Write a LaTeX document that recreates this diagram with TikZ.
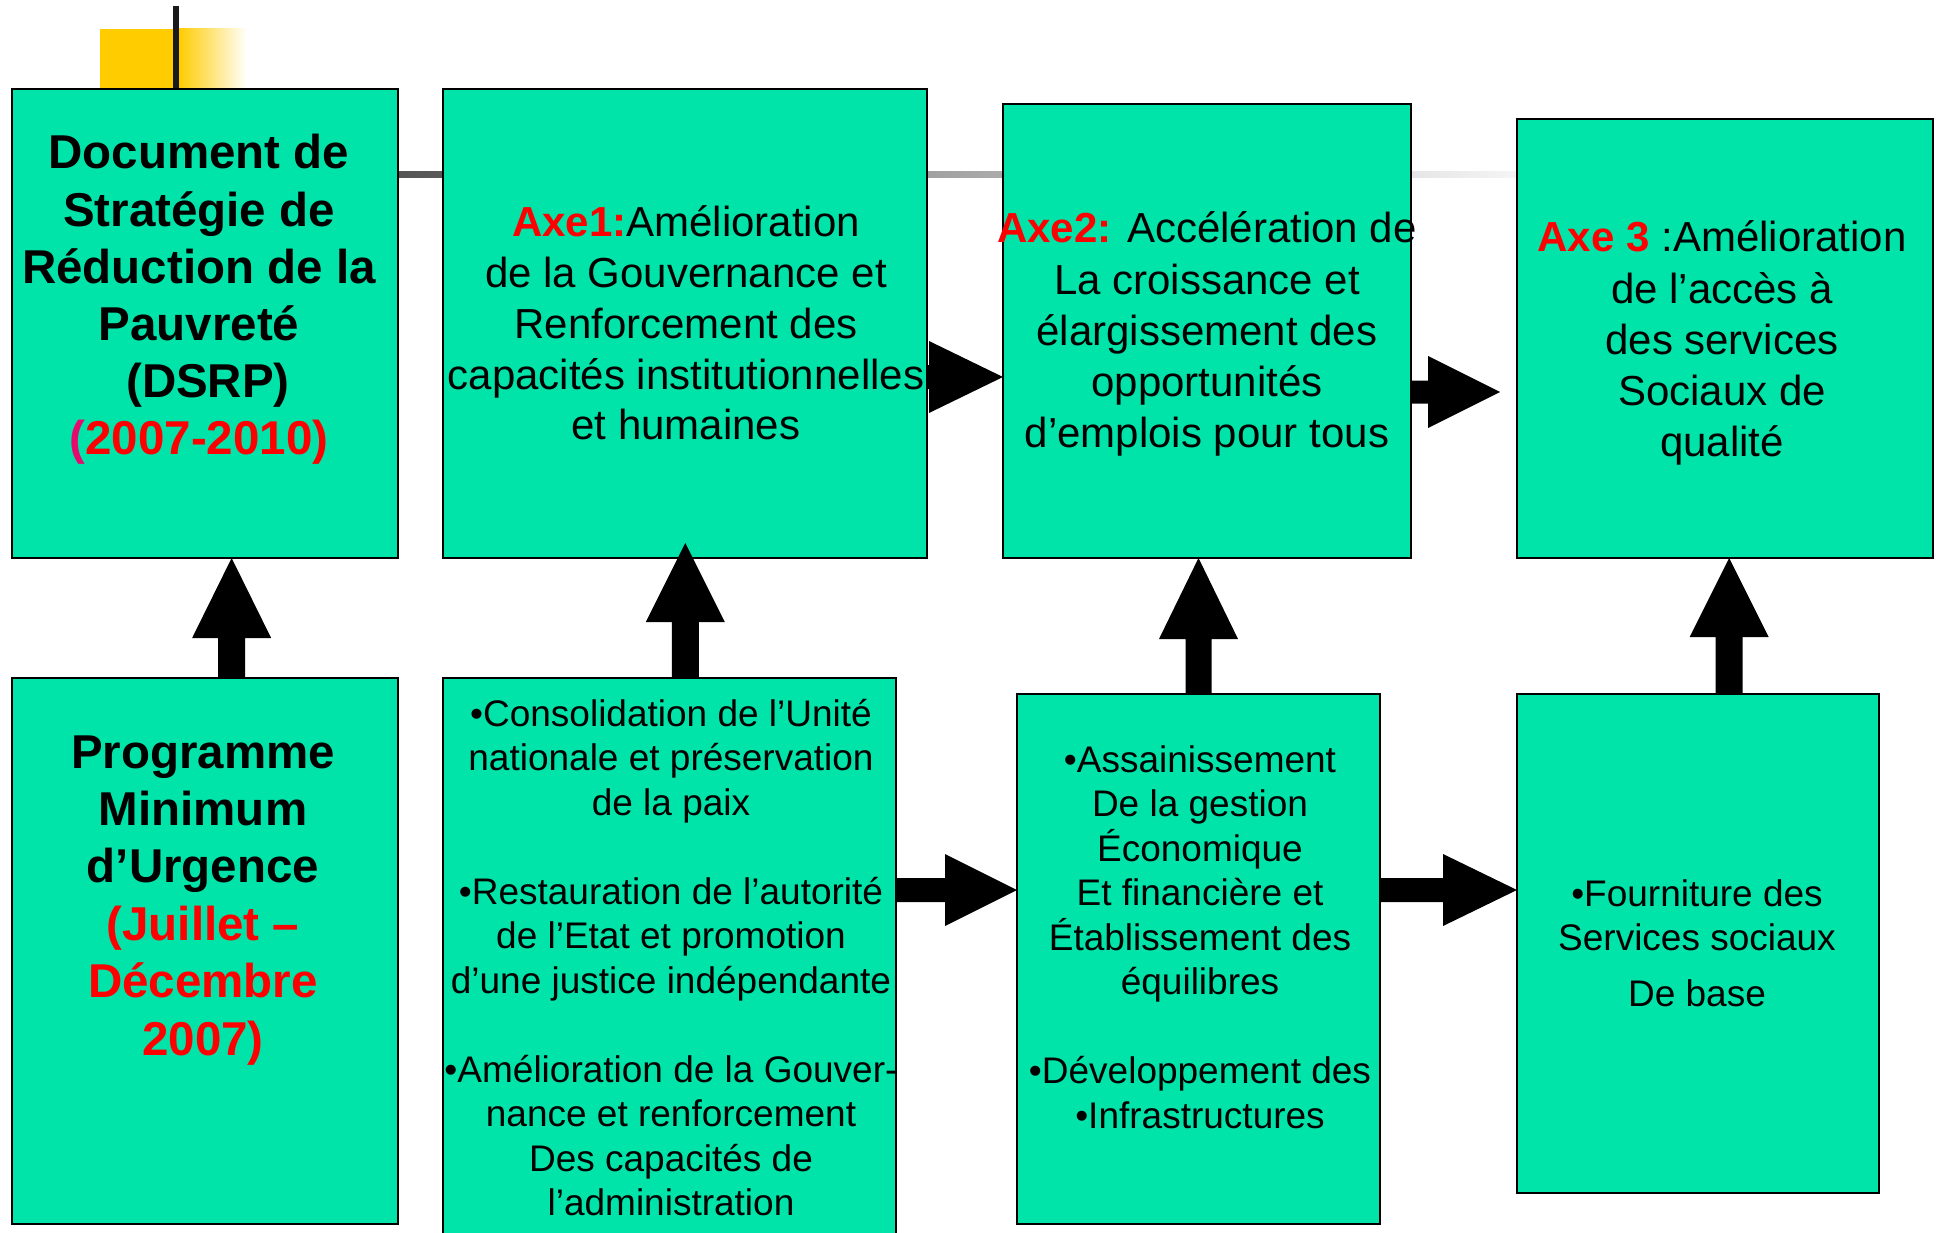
\documentclass[tikz,border=0pt]{standalone}
\usepackage{fontspec}
\setmainfont{Liberation Sans}
\usetikzlibrary{calc}
\definecolor{boxgreen}{RGB}{0,228,170}
\definecolor{axred}{RGB}{255,0,0}
\definecolor{parpink}{RGB}{230,10,110}
\definecolor{tplyellow}{RGB}{255,204,0}
\definecolor{barblack}{RGB}{26,26,26}
\newcommand\txtlines[2]{\vtop{\baselineskip=#1\lineskiplimit=-1000pt\lineskip=0pt\halign{\hfil##\hfil\cr#2\crcr}}}
% vertical block arrow: start, tip, half shaft, half head, head length
\newcommand\vblock[5]{\fill[black] let \p1=(#1), \p2=(#2) in (\x1-#3,\y1) -- (\x1-#3,\y2-#5) -- (\x1-#4,\y2-#5) -- (\x1,\y2) -- (\x1+#4,\y2-#5) -- (\x1+#3,\y2-#5) -- (\x1+#3,\y1) -- cycle;}
% horizontal block arrow: start, tip, half shaft, half head, head length
\newcommand\hblock[5]{\fill[black] let \p1=(#1), \p2=(#2) in (\x1,\y1+#3) -- (\x2-#5,\y1+#3) -- (\x2-#5,\y1+#4) -- (\x2,\y1) -- (\x2-#5,\y1-#4) -- (\x2-#5,\y1-#3) -- (\x1,\y1-#3) -- cycle;}
\begin{document}
\begin{tikzpicture}[x=1pt,y=-1pt,
  box/.style={draw=black, line width=2pt, fill=boxgreen, rectangle, inner sep=0pt, outer sep=0pt},
  bigtxt/.style={anchor=base, inner sep=0pt, font=\bfseries\fontsize{47.5pt}{57pt}\selectfont},
  axtxt/.style={anchor=base, inner sep=0pt, font=\fontsize{42pt}{51pt}\selectfont},
  smtxt/.style={anchor=base, inner sep=0pt, font=\fontsize{37pt}{44.5pt}\selectfont}]
\useasboundingbox (0,0) rectangle (1936,1233);
\clip (0,0) rectangle (1936,1233);
\fill[white] (0,0) rectangle (1936,1233);
% template decoration
\shade[left color=black!67, middle color=black!27, right color=black!4] (398,172) rectangle (1517,178);
\fill[tplyellow] (100,29) rectangle (179,89);
\shade[left color=tplyellow, right color=white] (178.5,29) rectangle (247,89);
\fill[barblack] (172.5,6) rectangle (179,89);
% boxes
\node[box, minimum width=386pt, minimum height=469pt] (A) at (205,323.5) {};
\node[box, minimum width=484pt, minimum height=469pt] (B) at (685,323.5) {};
\node[box, minimum width=408pt, minimum height=454pt] (C) at (1207,331) {};
\node[box, minimum width=416pt, minimum height=439pt] (D) at (1725,338.5) {};
\node[box, minimum width=386pt, minimum height=546pt] (E) at (205,951) {};
\node[box, minimum width=453pt, minimum height=562pt] (F) at (669.5,959) {};
\node[box, minimum width=363pt, minimum height=530pt] (G) at (1198.5,959) {};
\node[box, minimum width=362pt, minimum height=499pt] (H) at (1698,943.5) {};
% up arrows
\vblock{$(E.north west)!0.569!(E.north east)$}{A.south}{13.5pt}{39.5pt}{80pt}
\vblock{$(F.north west)!0.535!(F.north east)$}{$(B.south)+(0,-15)$}{13.5pt}{39.5pt}{79pt}
\vblock{$(G.north west)!0.5!(G.north east)$}{C.south}{13pt}{39.5pt}{81pt}
\vblock{$(H.north west)!0.586!(H.north east)$}{D.south}{13.5pt}{39.5pt}{79pt}
% right arrows
\hblock{B.east |- 0,377}{C.west |- 0,377}{12pt}{36pt}{74pt}
\hblock{C.east |- 0,392}{$(D.west |- 0,392)+(-17,0)$}{11.5pt}{36pt}{72pt}
\hblock{F.east |- 0,890}{G.west |- 0,890}{12pt}{36pt}{72pt}
\hblock{G.east |- 0,890}{H.west |- 0,890}{12pt}{36pt}{74pt}
% texts
\node[bigtxt] (tA) at (199,169) {\txtlines{57.2pt}{Document de\cr Stratégie de\cr Réduction de la\cr Pauvreté\cr \hspace{18pt}(DSRP)\cr {\color{parpink}(}{\color{axred}2007-2010)}}};
\node[bigtxt] (tE) at (203,768) {\txtlines{57.4pt}{Programme\cr Minimum\cr d’Urgence\cr {\color{axred}(Juillet –}\cr {\color{axred}Décembre}\cr {\color{axred}2007)}}};
\node[axtxt] (tB) at (686,237) {\txtlines{50.75pt}{{\bfseries\color{axred}Axe1:}Amélioration\cr de la Gouvernance et\cr Renforcement des\cr capacités institutionnelles\cr et humaines}};
\node[axtxt] (tC) at (1207,243) {\txtlines{51.25pt}{{\bfseries\color{axred}Axe2:} Accélération de\cr La croissance et\cr élargissement des\cr opportunités\cr d’emplois pour tous}};
\node[axtxt] (tD) at (1722,252) {\txtlines{51.25pt}{{\bfseries\color{axred}Axe 3} :Amélioration\cr de l’accès à\cr des services\cr Sociaux de\cr qualité}};
\node[smtxt] (tF) at (671,726) {\txtlines{44.5pt}{•Consolidation de l’Unité\cr nationale et préservation\cr de la paix\cr\cr •Restauration de l’autorité\cr de l’Etat et promotion\cr d’une justice indépendante\cr\cr •Amélioration de la Gouver-\cr nance et renforcement\cr Des capacités de\cr l’administration}};
\node[smtxt] (tG) at (1200,772) {\txtlines{44.5pt}{•Assainissement\cr De la gestion\cr Économique\cr Et financière et\cr Établissement des\cr équilibres\cr\cr •Développement des\cr •Infrastructures}};
\node[smtxt] (tH) at (1697,906) {\txtlines{44.5pt}{•Fourniture des\cr Services sociaux\cr\noalign{\vskip 11.5pt}De base}};
\end{tikzpicture}
\end{document}
